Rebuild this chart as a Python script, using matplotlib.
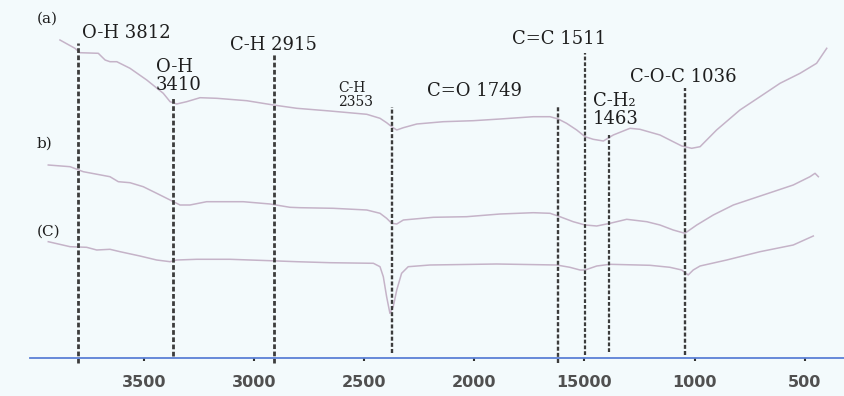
import matplotlib.pyplot as plt

# wavenumber (cm-1) and relative height above the baseline
wn_a = [3881, 3813, 3790, 3707, 3676, 3654, 3623, 3563, 3487, 3412, 3381, 3351, 3306,
        3245, 3169, 3033, 2912, 2806, 2655, 2488, 2428, 2398, 2375, 2352, 2322, 2261,
        2141, 2005, 1883, 1732, 1656, 1619, 1581, 1535, 1497, 1460, 1414, 1369, 1293,
        1248, 1157, 1097, 1058, 1013, 975, 900, 794, 703, 612, 521, 446, 400]
t_a = [318, 309.7, 305.3, 304.7, 298, 296.3, 296.3, 289.7, 278, 264.7, 256.3, 254, 256.3,
       260.3, 259.7, 257.3, 253, 249.7, 247, 243.7, 239.7, 235.3, 231.3, 228, 230.3, 234,
       236.3, 237.3, 239, 241.3, 241.3, 239, 234.7, 228, 221.3, 218.7, 217, 223, 229.7,
       228.7, 223, 216.3, 212, 209.7, 211.3, 228, 248, 261.3, 274.7, 284.7, 294.7, 309.7]

wn_b = [3934, 3835, 3775, 3654, 3616, 3563, 3503, 3442, 3381, 3336, 3291, 3215, 3049,
        2927, 2837, 2791, 2640, 2488, 2428, 2398, 2375, 2352, 2322, 2186, 2035, 1883,
        1732, 1656, 1611, 1551, 1497, 1444, 1384, 1308, 1217, 1157, 1097, 1044, 990,
        915, 824, 733, 643, 552, 476, 453, 438]
t_b = [193, 191.3, 186.3, 181.3, 176.3, 175.3, 171.3, 164.7, 158, 153, 153, 156.3, 156.3,
       154, 150.7, 150.3, 149.7, 148, 144.7, 139.7, 134.7, 134, 138, 140.7, 141.3, 144,
       145.3, 144.7, 141.3, 136.3, 133, 132, 134.7, 138.7, 136.3, 133, 128, 124.7, 133,
       143, 153, 159.7, 166.3, 173, 181.3, 184.7, 181.3]

wn_c = [3934, 3835, 3760, 3714, 3654, 3608, 3518, 3442, 3381, 3351, 3260, 3109, 2927,
        2806, 2655, 2458, 2428, 2413, 2398, 2383, 2368, 2352, 2330, 2300, 2201, 1898,
        1626, 1566, 1520, 1497, 1444, 1384, 1202, 1112, 1058, 1029, 1006, 975, 854,
        703, 552, 461]
t_c = [116.3, 111.3, 110.7, 108, 108.7, 106.3, 102, 98, 96.3, 98, 98.7, 98.7, 97.3,
       96.3, 95.3, 94.7, 91.3, 81.3, 61.3, 44.7, 51.3, 68, 84.7, 91.3, 93, 94,
       93, 90.7, 88, 88, 92, 93.7, 92.7, 90.7, 88, 83, 88, 92, 98,
       106.3, 113, 122]

# marked bands: where the dashed line is drawn, its label, how far it reaches
band_pos = [3799, 3369, 2911, 2375, 1621, 1496, 1387, 1042]
band_top = [315, 261, 304, 251, 251, 305, 223, 270]
band_bottom = [-5, 2, -5, 5, -5, 3, 6, 3]
band_labels = ["O-H 3812", "O-H\n3410", "C-H 2915", "C-H\n2353",
               "C=O 1749", "C=C 1511", "C-H\u2082\n1463", "C-O-C 1036"]
label_x = [3781, 3445, 3109, 2619, 2215, 1829, 1461, 1293]
label_y = [325.5, 282, 313.5, 263, 267, 319, 248, 280.5]

panel_names = ["(a)", "b)", "(C)"]
panel_y = [339, 214, 126]

tick_vals = [3500, 3000, 2500, 2000, 1500, 1000, 500]
tick_text = ["3500", "3000", "2500", "2000", "15000", "1000", "500"]

bg = "#f3fafc"
fig = plt.figure(figsize=(8.45, 3.96), dpi=100, facecolor=bg)
ax = fig.add_axes([30 / 845, 38 / 396, 815 / 845, 358 / 396])
ax.set_facecolor(bg)

for wn, t in [(wn_a, t_a), (wn_b, t_b), (wn_c, t_c)]:
    ax.plot(wn, t, color="#c5b3c8", lw=1.1)

widths = [2.0, 2.0, 2.0, 1.7, 1.7, 1.6, 1.6, 1.7]
for i in range(len(band_pos)):
    ax.plot([band_pos[i], band_pos[i]], [band_bottom[i], band_top[i]],
            color="#3c3c3c", lw=widths[i], linestyle=(0, (1.7, 0.9)), clip_on=False)
    small = i == 3
    ax.text(label_x[i], label_y[i], band_labels[i], ha="left", va="center",
            family="DejaVu Serif", fontsize=10 if small else 13,
            color="#1e1e1e", linespacing=1.05)

for name, y in zip(panel_names, panel_y):
    ax.text(3985, y, name, ha="left", va="center", family="DejaVu Serif",
            fontsize=11, color="#1e1e1e")

ax.set_xlim(4017, 317)
ax.set_ylim(0, 358)
for s in ["top", "left", "right"]:
    ax.spines[s].set_visible(False)
ax.spines["bottom"].set_color("#5b80d6")
ax.spines["bottom"].set_linewidth(1.3)
ax.set_yticks([])
ax.set_xticks(tick_vals)
ax.set_xticklabels(tick_text, fontsize=11.5, fontweight="bold", color="#505050")
ax.tick_params(axis="x", length=2.5, width=1.5, color="#333333", pad=10)

fig.savefig("out.png", dpi=100, facecolor=bg)
